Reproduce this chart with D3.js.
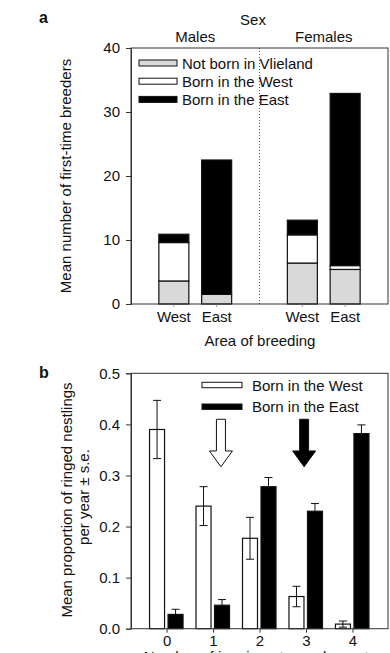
<!DOCTYPE html>
<html>
<head>
<meta charset="utf-8">
<script src="https://cdn.jsdelivr.net/npm/d3@7"></script>
<style>
  html, body { margin: 0; padding: 0; background: #fff; }
  svg { display: block; font-family: "Liberation Sans", Arial, Helvetica, sans-serif; }
  text { fill: #111; }
</style>
</head>
<body>
<div id="chart"></div>
<script>
// ---- data: panel a (stacked means of first-time breeders) ----
const sexes = ['Males', 'Females'];
const areas = ['West', 'East'];
// order of bars: Males-West, Males-East, Females-West, Females-East
const notBorn  = [3.6, 1.5, 6.4, 5.4];
const bornWest = [6.0, 0.0, 4.4, 0.6];
const bornEast = [1.3, 21.0, 2.3, 26.9];
const yTicksA = [0, 10, 20, 30, 40];

// ---- data: panel b (proportion of ringed nestlings) ----
const grandparents = [0, 1, 2, 3, 4];
const westMean = [0.390, 0.240, 0.177, 0.063, 0.009];
const westSE   = [0.057, 0.038, 0.041, 0.020, 0.006];
const eastMean = [0.028, 0.046, 0.278, 0.230, 0.382];
const eastSE   = [0.010, 0.011, 0.018, 0.015, 0.017];
const yTicksB = [0.0, 0.1, 0.2, 0.3, 0.4, 0.5];

const W = 390, H = 653;
const left = 131, right = 388;
const ink = '#111';

const svg = d3.select('#chart').append('svg')
  .attr('width', W).attr('height', H);

// ================= panel a =================
const yA = d3.scaleLinear().domain([0, 40]).range([304, 48]);
const xSex = d3.scaleBand().domain(sexes).range([left, right]);
const xArea = d3.scalePoint().domain(areas).range([-21.4, 21.4]);
const bwA = 30;

const barsA = [];
sexes.forEach((s, si) => {
  areas.forEach((a, ai) => {
    const i = si * 2 + ai;
    barsA.push({ sex: s, area: a, parts: [
      { v0: 0, v1: notBorn[i], fill: '#d9d9d9' },
      { v0: notBorn[i], v1: notBorn[i] + bornWest[i], fill: '#fff' },
      { v0: notBorn[i] + bornWest[i], v1: notBorn[i] + bornWest[i] + bornEast[i], fill: '#000' }
    ]});
  });
});

const gA = svg.append('g');

// dotted divider between sexes
gA.append('line')
  .attr('x1', xSex('Females')).attr('x2', xSex('Females'))
  .attr('y1', yA(40)).attr('y2', yA(0))
  .attr('stroke', '#555').attr('stroke-width', 1)
  .attr('stroke-dasharray', '1,2');

barsA.forEach(b => {
  const cx = xSex(b.sex) + xSex.bandwidth() / 2 + xArea(b.area);
  b.parts.forEach(p => {
    if (p.v1 - p.v0 <= 0) return;
    gA.append('rect')
      .attr('x', cx - bwA / 2).attr('width', bwA)
      .attr('y', yA(p.v1)).attr('height', yA(p.v0) - yA(p.v1))
      .attr('fill', p.fill).attr('stroke', ink).attr('stroke-width', 1.2);
  });
  gA.append('line')
    .attr('x1', cx).attr('x2', cx)
    .attr('y1', yA(0)).attr('y2', yA(0) + 3)
    .attr('stroke', '#999');
  gA.append('text')
    .attr('x', cx).attr('y', 322)
    .attr('text-anchor', 'middle').attr('font-size', 15)
    .text(b.area);
});

// frame + y axis
gA.append('rect')
  .attr('x', left).attr('y', yA(40))
  .attr('width', right - left).attr('height', yA(0) - yA(40))
  .attr('fill', 'none').attr('stroke', '#333').attr('stroke-width', 1);

gA.append('g')
  .attr('transform', `translate(${left},0)`)
  .call(d3.axisLeft(yA).tickValues(yTicksA).tickSize(5).tickPadding(6))
  .call(g => g.select('.domain').attr('stroke', '#333'))
  .call(g => g.selectAll('.tick line').attr('stroke', '#333'))
  .call(g => g.selectAll('.tick text').attr('font-size', 15).attr('fill', ink)
    .attr('font-family', '"Liberation Sans", Arial, sans-serif'));

// legend a
const legA = [
  { label: 'Not born in Vlieland', fill: '#d9d9d9' },
  { label: 'Born in the West', fill: '#fff' },
  { label: 'Born in the East', fill: '#000' }
];
legA.forEach((d, i) => {
  const cy = 63 + i * 18.2;
  gA.append('rect')
    .attr('x', 139).attr('y', cy - 3).attr('width', 38).attr('height', 6)
    .attr('fill', d.fill).attr('stroke', ink).attr('stroke-width', 1);
  gA.append('text')
    .attr('x', 182).attr('y', cy + 5.5)
    .attr('font-size', 15).text(d.label);
});

// titles a
svg.append('text').attr('x', 39).attr('y', 23)
  .attr('font-size', 16).attr('font-weight', 'bold').text('a');
svg.append('text').attr('x', 253).attr('y', 25)
  .attr('text-anchor', 'middle').attr('font-size', 15).text('Sex');
sexes.forEach(s => {
  svg.append('text')
    .attr('x', xSex(s) + xSex.bandwidth() / 2).attr('y', 42)
    .attr('text-anchor', 'middle').attr('font-size', 15).text(s);
});
svg.append('text').attr('x', 260).attr('y', 346)
  .attr('text-anchor', 'middle').attr('font-size', 15).text('Area of breeding');
svg.append('text')
  .attr('transform', 'translate(71,176) rotate(-90)')
  .attr('text-anchor', 'middle').attr('font-size', 15)
  .text('Mean number of first-time breeders');

// ================= panel b =================
const yB = d3.scaleLinear().domain([0, 0.5]).range([628.7, 373.3]);
const xB = d3.scalePoint().domain(grandparents).range([left, right]).padding(0.765);
const bwB = 15;

const gB = svg.append('g');

const seriesB = [
  { mean: westMean, se: westSE, fill: '#fff', dx: -17 },
  { mean: eastMean, se: eastSE, fill: '#000', dx: 1.5 }
];

seriesB.forEach(s => {
  grandparents.forEach((g, i) => {
    const x0 = xB(g) + s.dx;
    const cx = x0 + bwB / 2;
    // error bar
    gB.append('line')
      .attr('x1', cx).attr('x2', cx)
      .attr('y1', yB(Math.max(0, s.mean[i] - s.se[i]))).attr('y2', yB(s.mean[i] + s.se[i]))
      .attr('stroke', ink).attr('stroke-width', 1);
    [s.mean[i] + s.se[i], s.mean[i] - s.se[i]].forEach(v => {
      if (v <= 0) return;
      gB.append('line')
        .attr('x1', cx - 4).attr('x2', cx + 4)
        .attr('y1', yB(v)).attr('y2', yB(v))
        .attr('stroke', ink).attr('stroke-width', 1);
    });
    gB.append('rect')
      .attr('x', x0).attr('width', bwB)
      .attr('y', yB(s.mean[i])).attr('height', yB(0) - yB(s.mean[i]))
      .attr('fill', s.fill).attr('stroke', ink).attr('stroke-width', 1.2)
      .attr('fill-opacity', s.fill === '#fff' ? 0 : 1);
  });
});

// arrows
const arrows = [
  { at: 1.17, fill: '#fff' },
  { at: 2.96, fill: '#000' }
];
const stepB = xB.step();
arrows.forEach(a => {
  const cx = xB(0) + a.at * stepB;
  const yTop = yB(0.41), yHead = yB(0.348), yTip = yB(0.317);
  const sw = 4.5, hw = 11.5;
  const pts = [
    [cx - sw, yTop], [cx + sw, yTop], [cx + sw, yHead], [cx + hw, yHead],
    [cx, yTip], [cx - hw, yHead], [cx - sw, yHead]
  ];
  gB.append('path')
    .attr('d', d3.line()(pts) + 'Z')
    .attr('fill', a.fill).attr('stroke', ink).attr('stroke-width', 1);
});

// frame + axes
gB.append('rect')
  .attr('x', left).attr('y', yB(0.5))
  .attr('width', right - left).attr('height', yB(0) - yB(0.5))
  .attr('fill', 'none').attr('stroke', '#333').attr('stroke-width', 1);

gB.append('g')
  .attr('transform', `translate(${left},0)`)
  .call(d3.axisLeft(yB).tickValues(yTicksB).tickFormat(d3.format('.1f')).tickSize(5).tickPadding(6))
  .call(g => g.select('.domain').attr('stroke', '#333'))
  .call(g => g.selectAll('.tick line').attr('stroke', '#333'))
  .call(g => g.selectAll('.tick text').attr('font-size', 15).attr('fill', ink)
    .attr('font-family', '"Liberation Sans", Arial, sans-serif'));

gB.append('g')
  .attr('transform', `translate(0,${yB(0)})`)
  .call(d3.axisBottom(xB).tickSize(4).tickPadding(3))
  .call(g => g.select('.domain').remove())
  .call(g => g.selectAll('.tick line').attr('stroke', '#333'))
  .call(g => g.selectAll('.tick text').attr('font-size', 15).attr('fill', ink)
    .attr('font-family', '"Liberation Sans", Arial, sans-serif'));

// legend b
const legB = [
  { label: 'Born in the West', fill: '#fff' },
  { label: 'Born in the East', fill: '#000' }
];
legB.forEach((d, i) => {
  const cy = 385 + i * 21.7;
  gB.append('rect')
    .attr('x', 202).attr('y', cy - 2.7).attr('width', 40).attr('height', 5.4)
    .attr('fill', d.fill).attr('stroke', ink).attr('stroke-width', 1);
  gB.append('text')
    .attr('x', 252).attr('y', cy + 5.5)
    .attr('font-size', 15).text(d.label);
});

// titles b
svg.append('text').attr('x', 39).attr('y', 378)
  .attr('font-size', 16).attr('font-weight', 'bold').text('b');
svg.append('text')
  .attr('transform', 'translate(72,500) rotate(-90)')
  .attr('text-anchor', 'middle').attr('font-size', 15)
  .text('Mean proportion of ringed nestlings');
svg.append('text')
  .attr('transform', 'translate(89,497) rotate(-90)')
  .attr('text-anchor', 'middle').attr('font-size', 15)
  .text('per year \u00b1 s.e.');
svg.append('text').attr('x', 260).attr('y', 662)
  .attr('text-anchor', 'middle').attr('font-size', 15)
  .text('Number of immigrant grandparents');
</script>
</body>
</html>
